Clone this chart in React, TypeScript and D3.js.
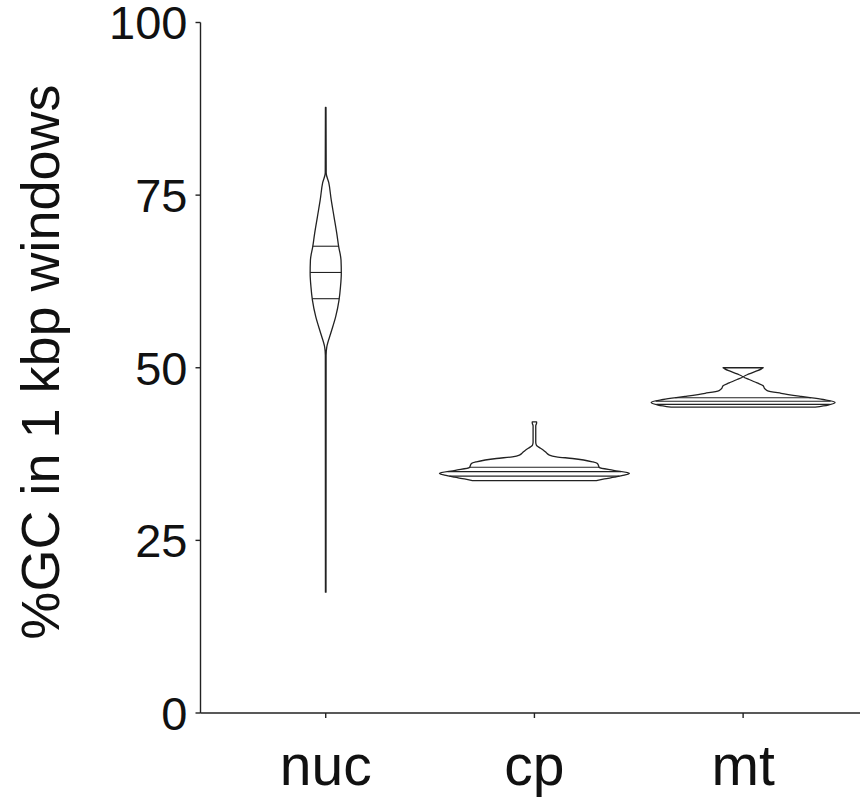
import React from "react";
import * as d3 from "d3";

const categories = ["nuc", "cp", "mt"];
const yTicks = [0, 25, 50, 75, 100];

// %GC grid (ascending) and relative density (violin half-width, 1 = widest)
const nucGC = [17.5, 51.8, 53.0, 55.0, 57.4, 59.8, 61.8, 63.7, 65.6, 67.5, 69.5, 71.9, 74.3, 76.8, 78.2, 87.7];
const nucDensity = [0.003, 0.004, 0.011, 0.053, 0.105, 0.14, 0.156, 0.164, 0.161, 0.137, 0.116, 0.087, 0.058, 0.032, 0.005, 0.003];
const nucQuartiles = [60.0, 63.8, 67.6];

const cpGC = [33.65, 33.9, 34.15, 34.45, 34.73, 35.15, 35.55, 35.85, 36.14, 36.37, 36.86, 37.1, 37.34, 37.7, 38.06, 38.54, 38.78, 39.2, 41.6, 42.0, 42.16];
const cpDensity = [0.653, 0.737, 0.842, 0.947, 1.0, 0.832, 0.684, 0.674, 0.663, 0.611, 0.4, 0.232, 0.158, 0.126, 0.095, 0.042, 0.021, 0.014, 0.014, 0.023, 0.023];
const cpQuartiles = [34.3, 34.95, 35.6];

const mtGC = [44.3, 44.6, 45.0, 45.4, 45.85, 46.3, 46.7, 47.0, 47.4, 47.8, 48.3, 48.7, 49.1, 49.5, 49.8, 50.0];
const mtDensity = [0.758, 0.895, 0.968, 0.842, 0.611, 0.4, 0.253, 0.226, 0.211, 0.147, 0.063, 0.005, 0.063, 0.137, 0.189, 0.211];
const mtQuartiles = [44.7, 45.15, 45.65];

const violins = [
  { gc: nucGC, density: nucDensity, quartiles: nucQuartiles },
  { gc: cpGC, density: cpDensity, quartiles: cpQuartiles },
  { gc: mtGC, density: mtDensity, quartiles: mtQuartiles },
];

const W = 860;
const H = 797;
const axisX = 200.5;
const axisY = 713;

export default function App() {
  const y = d3.scaleLinear().domain([0, 100]).range([axisY, 22.5]);
  const x = d3.scaleLinear().domain([0.4, 3.6]).range([axisX, axisX + 3.2 * 208.7]);
  const w = d3.scaleLinear().domain([0, 1]).range([0, 95]);
  const font = "'Liberation Sans', Arial, Helvetica, sans-serif";
  const stroke = "#222";

  return (
    <svg width={W} height={H} style={{ position: "absolute", left: 0, top: 0, background: "#fff" }}>
      {/* y axis */}
      <line x1={axisX} x2={axisX} y1={y(100)} y2={axisY} stroke={stroke} strokeWidth={1.4} />
      {yTicks.map((t) => (
        <g key={t}>
          <line x1={axisX - 5} x2={axisX} y1={y(t)} y2={y(t)} stroke={stroke} strokeWidth={1.4} />
          <text x={axisX - 13} y={y(t)} dy="0.36em" textAnchor="end" fontFamily={font} fontSize={47} fill="#111">
            {t}
          </text>
        </g>
      ))}
      {/* x axis */}
      <line x1={axisX} x2={W} y1={axisY} y2={axisY} stroke={stroke} strokeWidth={1.4} />
      {categories.map((c, i) => (
        <g key={c}>
          <line x1={x(i + 1)} x2={x(i + 1)} y1={axisY} y2={axisY + 5} stroke={stroke} strokeWidth={1.4} />
          <text x={x(i + 1)} y={785} textAnchor="middle" fontFamily={font} fontSize={57} fill="#111">
            {c}
          </text>
        </g>
      ))}
      {/* y title */}
      <text
        transform={`translate(59,362) rotate(-90)`}
        textAnchor="middle"
        fontFamily={font}
        fontSize={54}
        fill="#111"
      >
        %GC in 1 kbp windows
      </text>
      {/* violins */}
      {violins.map((v, i) => {
        const cx = x(i + 1);
        const pts = v.gc.map((g, k) => ({ g, d: v.density[k] }));
        const area = d3
          .area<{ g: number; d: number }>()
          .y((p) => y(p.g))
          .x0((p) => cx - w(p.d))
          .x1((p) => cx + w(p.d))
          .curve(d3.curveMonotoneY);
        const interp = d3.scaleLinear().domain(v.gc).range(v.density);
        return (
          <g key={i}>
            <path d={area(pts) || ""} fill="#fff" stroke={stroke} strokeWidth={1.3} strokeLinejoin="round" />
            {v.quartiles.map((q, k) => (
              <line
                key={k}
                x1={cx - w(interp(q))}
                x2={cx + w(interp(q))}
                y1={y(q)}
                y2={y(q)}
                stroke={stroke}
                strokeWidth={1.1}
              />
            ))}
          </g>
        );
      })}
    </svg>
  );
}
